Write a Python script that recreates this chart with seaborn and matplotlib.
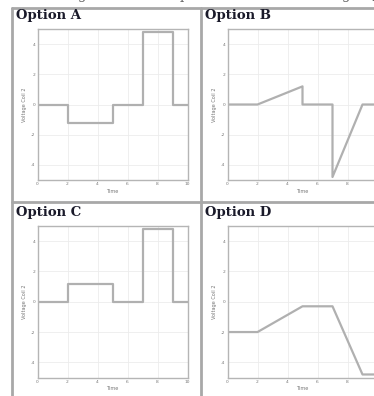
import numpy as np
import pandas as pd
import matplotlib
matplotlib.use("Agg")
import matplotlib.pyplot as plt
import seaborn as sns
from matplotlib.lines import Line2D

sns.set_style("white")

titles = ["Option A", "Option B", "Option C", "Option D"]
t_a = [0, 2, 2, 5, 5, 7, 7, 9, 9, 10]
v_a = [0, 0, -1.2, -1.2, 0, 0, 4.8, 4.8, 0, 0]
t_b = [0, 2, 5, 5, 7, 7, 9, 10]
v_b = [0, 0, 1.2, 0, 0, -4.8, 0, 0]
t_c = [0, 2, 2, 5, 5, 7, 7, 9, 9, 10]
v_c = [0, 0, 1.2, 1.2, 0, 0, 4.8, 4.8, 0, 0]
t_d = [0, 2, 5, 7, 9, 10]
v_d = [-2, -2, -0.3, -0.3, -4.8, -4.8]
x_ticks = [0, 2, 4, 6, 8, 10]
y_ticks = [-4, -2, 0, 2, 4]
x_label = "Time"
y_label = "Voltage Coil 2"

W, H = 374, 396
fig = plt.figure(figsize=(W / 100, H / 100), dpi=100)

def ax_px(x0, y0, x1, y1):
    return fig.add_axes([x0 / W, 1 - y1 / H, (x1 - x0) / W, (y1 - y0) / H])

# table borders
line_c = "#a8a8a8"
def fline(xs, ys, lw=2.0):
    fig.add_artist(Line2D([x / W for x in xs], [1 - y / H for y in ys],
                          color=line_c, lw=lw, transform=fig.transFigure))
fline([12, W], [7.5, 7.5])
fline([12, 12], [7.5, H])
fline([12, W], [202, 202])
fline([201, 201], [7.5, H])

# clipped header sentence (only its lower edge is visible, as in the screenshot)
fig.text(0.52, 1 + 4.5 / H, "The following are different predictions for the voltage $V_2(t)$",
         ha="center", va="center", fontsize=9.5, color="#666666", family="DejaVu Serif")

panels = [
    (titles[0], t_a, v_a, (37.5, 29, 187.5, 180), (16, 15.5)),
    (titles[1], t_b, v_b, (227.5, 29, 377.5, 180), (205, 15.5)),
    (titles[2], t_c, v_c, (37.5, 226, 187.5, 377.5), (16, 212.5)),
    (titles[3], t_d, v_d, (227.5, 226, 377.5, 377.5), (205, 212.5)),
]

for title, t, v, box, tpos in panels:
    ax = ax_px(*box)
    df = pd.DataFrame({"t": t, "v": v})
    sns.lineplot(data=df, x="t", y="v", ax=ax, sort=False, estimator=None,
                 color="#b0b0b0", lw=1.6)
    ax.set_xlim(0, 10)
    ax.set_ylim(-5, 5)
    ax.set_xticks(x_ticks)
    ax.set_yticks(y_ticks)
    ax.set_xticklabels([str(x) for x in x_ticks])
    ax.set_yticklabels([str(y) for y in y_ticks])
    ax.grid(True, color="#ececec", lw=0.6)
    for s in ax.spines.values():
        s.set_color("#b5b5b5")
        s.set_linewidth(1.0)
    ax.tick_params(axis="both", labelsize=3.2, colors="#999999", length=1.5, width=0.5,
                   pad=1.5, direction="in")
    ax.tick_params(axis="both", labelcolor="#777777")
    ax.set_xlabel(x_label, fontsize=3.6, color="#777777", labelpad=2)
    ax.set_ylabel(y_label, fontsize=3.6, color="#777777", labelpad=3)
    fig.text(tpos[0] / W, 1 - tpos[1] / H, title, ha="left", va="center",
             fontsize=9.5, fontweight="bold", family="DejaVu Serif", color="#1a1a2a")

fig.savefig("out.png", dpi=100)
